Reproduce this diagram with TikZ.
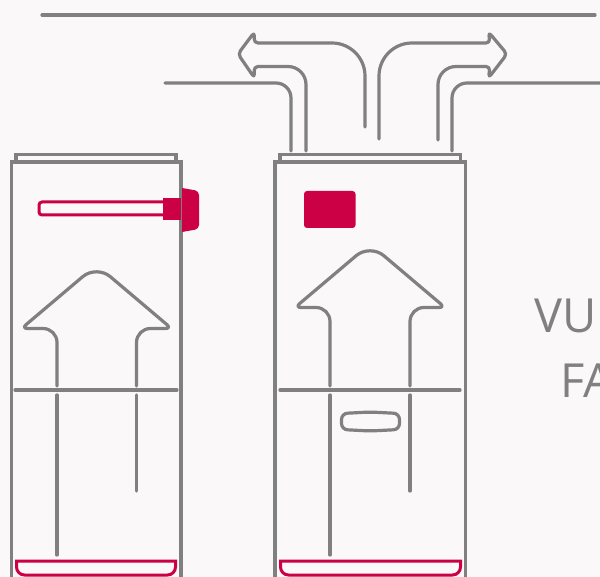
\documentclass[tikz,border=0pt]{standalone}
\usepackage{fontspec}
\setmainfont{Open Sans}
\definecolor{pipegrey}{HTML}{808080}
\definecolor{crimson}{HTML}{CC0044}
\definecolor{paper}{HTML}{FAF8F9}
\tikzset{
  pipe/.style={draw=pipegrey,line width=3.2pt,line cap=round,line join=round},
  shell/.style={draw=pipegrey,line width=3.2pt,line join=miter},
  redline/.style={draw=crimson,line width=3pt},
  tag/.style={text=pipegrey,inner sep=0pt,anchor=base west,font=\fontsize{47}{47}\selectfont}
}
\begin{document}
\begin{tikzpicture}[x=1pt,y=-1pt]
  \useasboundingbox (0,0) rectangle (600,577);
  \fill[paper] (0,0) rectangle (600,577);
  \clip (0,0) rectangle (600,577);
  % flue lines on top
  \draw[pipe] (42,15)--(595,15);
  \draw[pipe,rounded corners=15pt] (165,83)--(291,83)--(291,151);
  \draw[pipe,rounded corners=15pt] (600,83)--(452,83)--(452,151);
  % air going out
  \draw[pipe] (306,151)[rounded corners=18pt]--(306,66.5)[rounded corners=4pt]--(254,66.5)--(254.5,78)--(238,54)--(254.5,32)--(254,43)[rounded corners=33pt]--(365,43)[sharp corners]--(365,127);
  \draw[pipe] (379,139)[rounded corners=33pt]--(379,43)[rounded corners=4pt]--(490,43)--(488.5,32)--(507,54)--(488.5,78)--(490,66.5)[rounded corners=18pt]--(438,66.5)[sharp corners]--(438,140);
  % left tank
  \draw[shell] (16,161)--(16,154.5)--(176,154.5)--(176,161);
  \draw[shell] (11.5,580)--(11.5,162)--(181,162)--(181,580);
  \draw[redline,rounded corners=3pt] (165,202)--(39,202)--(39,215)--(165,215);
  \fill[crimson] (163,198) rectangle (181,220);
  \fill[crimson] (182,188)[rounded corners=4pt]--(199,191)--(199,229)[sharp corners]--(182,232)--cycle;
  \draw[pipe] (57,386)[rounded corners=14pt]--(57,328.5)[rounded corners=6pt]--(21.5,328.5)[rounded corners=18pt]--(96.5,265)[rounded corners=6pt]--(171.5,328.5)[rounded corners=14pt]--(136.5,328.5)[sharp corners]--(136.5,386);
  \draw[pipe] (15,390)--(177,390);
  \draw[pipe] (57,395)--(57,555);
  \draw[pipe] (136.5,395)--(136.5,491);
  \draw[redline] (16.5,561)[rounded corners=8pt]--(16.5,575)--(175.5,575)[sharp corners]--(175.5,561)--cycle;
  % right tank
  \draw[shell] (280,161)--(280,154.5)--(460.5,154.5)--(460.5,161);
  \draw[shell] (275,580)--(275,162)--(465.5,162)--(465.5,580);
  \fill[crimson,rounded corners=3pt] (304,191) rectangle (355.5,228);
  \draw[pipe] (330,386)[rounded corners=14pt]--(330,307.5)[rounded corners=6pt]--(295,307.5)[rounded corners=18pt]--(370,244)[rounded corners=6pt]--(445,307.5)[rounded corners=14pt]--(410,307.5)[sharp corners]--(410,386);
  \draw[pipe] (280,390)--(460,390);
  \draw[pipe] (330,395)--(330,555);
  \draw[pipe] (410,395)--(410,491);
  \draw[pipe,rounded corners=6pt] (370,412)--(399.5,413.5)--(399.5,429.5)--(370,431)--(341.5,429.5)--(341.5,413.5)--cycle;
  \draw[redline] (280.5,561)[rounded corners=8pt]--(280.5,575)--(460.5,575)[sharp corners]--(460.5,561)--cycle;
  % text
  \node[tag] (vu) at (534.5,333) {VU};
  \node[tag] (fa) at (560,397) {FA};
\end{tikzpicture}
\end{document}
